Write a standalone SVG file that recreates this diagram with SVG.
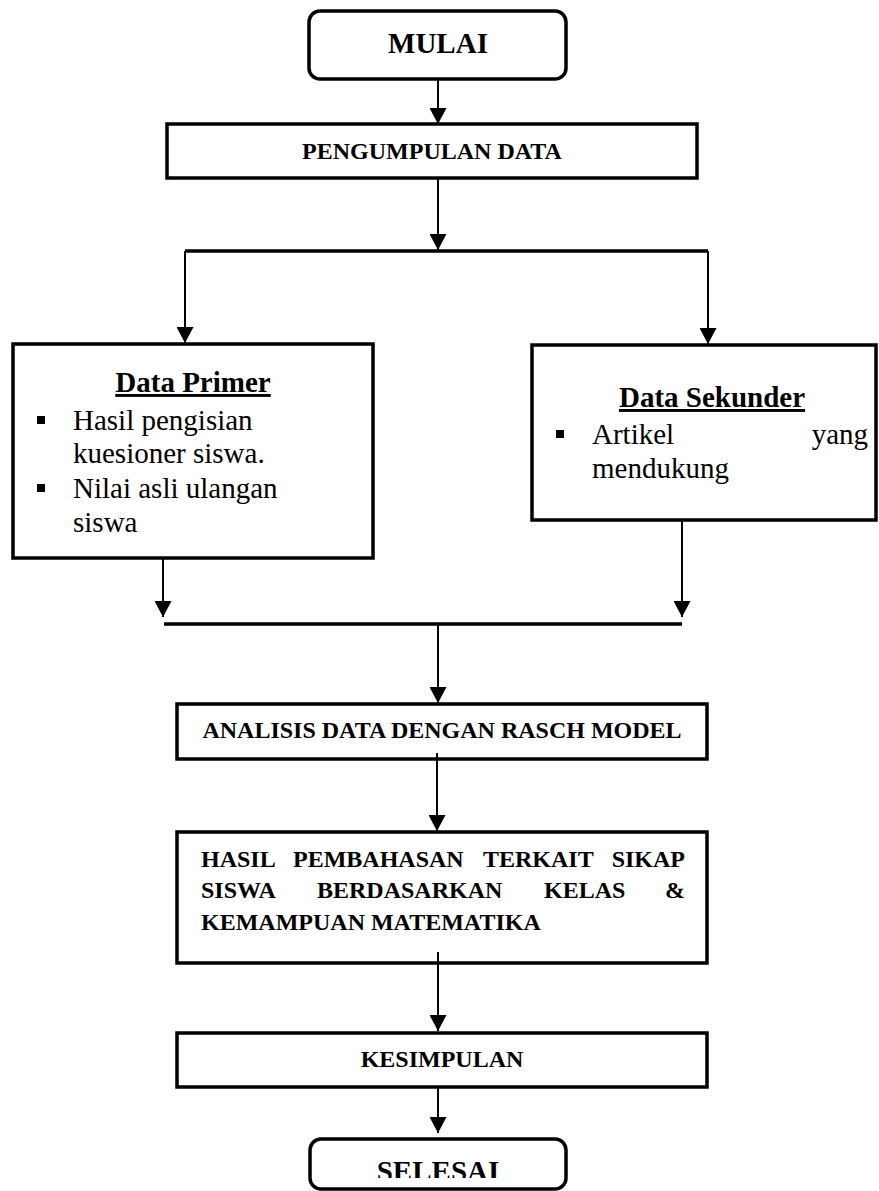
<svg xmlns="http://www.w3.org/2000/svg" width="879" height="1191" viewBox="0 0 879 1191">
<style>
.box{fill:#fff;stroke:#000;stroke-width:3.5}
.cn{fill:none;stroke:#000;stroke-width:2}
.bar{fill:none;stroke:#000;stroke-width:3.5}
.cap{font-family:"Liberation Serif","Times New Roman",serif;font-weight:bold;font-size:24px;fill:#000}
.big{font-family:"Liberation Serif","Times New Roman",serif;font-weight:bold;font-size:29px;fill:#000}
.body{font-family:"Liberation Serif","Times New Roman",serif;font-size:29px;fill:#000}
.ul{text-decoration:underline}
</style>
<defs>
<marker id="ah" viewBox="0 0 16 17" refX="16" refY="8.5" markerWidth="16" markerHeight="17" markerUnits="userSpaceOnUse" orient="auto">
<path d="M0,0 L16,8.5 L0,17 z" fill="#000"/>
</marker>
<clipPath id="clipSel"><rect x="300" y="1130" width="280" height="48"/></clipPath>
</defs>

<g id="mulai">
<rect class="box" x="309" y="11" width="257" height="68" rx="11"/>
<text class="big" x="438" y="53" text-anchor="middle">MULAI</text>
</g>

<g id="pengumpulan">
<rect class="box" x="167" y="124" width="530" height="54"/>
<text class="cap" x="432" y="159" text-anchor="middle">PENGUMPULAN DATA</text>
</g>

<g id="primer">
<rect class="box" x="13" y="344" width="360" height="214"/>
<text class="big ul" x="193" y="392" text-anchor="middle">Data Primer</text>
<rect x="37" y="416" width="8" height="8" fill="#000"/>
<text class="body" x="73" y="430">Hasil pengisian</text>
<text class="body" x="73" y="463">kuesioner siswa.</text>
<rect x="37" y="484" width="8" height="8" fill="#000"/>
<text class="body" x="73" y="498">Nilai asli ulangan</text>
<text class="body" x="73" y="532">siswa</text>
</g>

<g id="sekunder">
<rect class="box" x="532" y="345" width="344" height="175"/>
<text class="big ul" x="712" y="407" text-anchor="middle">Data Sekunder</text>
<rect x="556" y="430" width="8" height="8" fill="#000"/>
<text class="body" x="592" y="444">Artikel</text>
<text class="body" x="868" y="444" text-anchor="end">yang</text>
<text class="body" x="592" y="478">mendukung</text>
</g>

<g id="analisis">
<rect class="box" x="177" y="704" width="530" height="55"/>
<text class="cap" x="442" y="738" text-anchor="middle">ANALISIS DATA DENGAN RASCH MODEL</text>
</g>

<g id="hasil">
<rect class="box" x="177" y="832" width="530" height="131"/>
<text class="cap" x="201" y="867">HASIL</text>
<text class="cap" x="293" y="867">PEMBAHASAN</text>
<text class="cap" x="483" y="867">TERKAIT</text>
<text class="cap" x="685" y="867" text-anchor="end">SIKAP</text>
<text class="cap" x="201" y="898">SISWA</text>
<text class="cap" x="317" y="898">BERDASARKAN</text>
<text class="cap" x="544" y="898">KELAS</text>
<text class="cap" x="685" y="898" text-anchor="end">&amp;</text>
<text class="cap" x="201" y="930">KEMAMPUAN MATEMATIKA</text>
</g>

<g id="kesimpulan">
<rect class="box" x="177" y="1033" width="530" height="54"/>
<text class="cap" x="442" y="1067" text-anchor="middle">KESIMPULAN</text>
</g>

<g id="selesai">
<rect class="box" x="310" y="1139" width="256" height="50" rx="11"/>
<text class="big" x="438" y="1181" text-anchor="middle" clip-path="url(#clipSel)">SELESAI</text>
</g>

<g id="connectors">
<path class="cn" d="M438,79 L438,124" marker-end="url(#ah)"/>
<path class="cn" d="M438,178 L438,250" marker-end="url(#ah)"/>
<path class="bar" d="M185,251 L708,251"/>
<path class="cn" d="M185,251 L185,343" marker-end="url(#ah)"/>
<path class="cn" d="M708,251 L708,344" marker-end="url(#ah)"/>
<path class="cn" d="M163,558 L163,617" marker-end="url(#ah)"/>
<path class="cn" d="M682,520 L682,617" marker-end="url(#ah)"/>
<path class="bar" d="M164,624 L682,624"/>
<path class="cn" d="M438,624 L438,703" marker-end="url(#ah)"/>
<path class="cn" d="M437,753 L437,831" marker-end="url(#ah)"/>
<path class="cn" d="M438,952 L438,1031" marker-end="url(#ah)"/>
<path class="cn" d="M438,1087 L438,1133" marker-end="url(#ah)"/>
</g>
</svg>
